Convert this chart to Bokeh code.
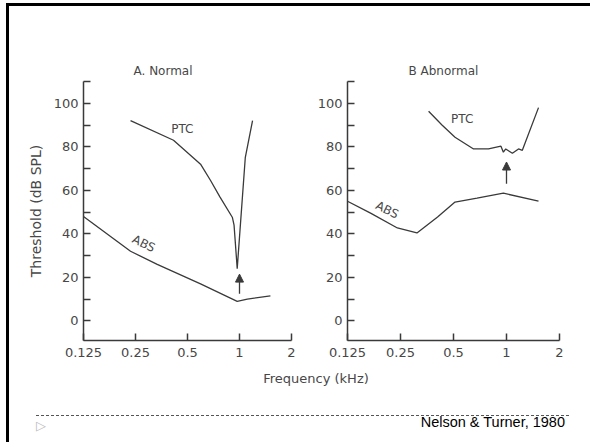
from bokeh.plotting import figure
from bokeh.layouts import row, column
from bokeh.models import FixedTicker, Arrow, NormalHead, Div, Range1d, BasicTickFormatter
from bokeh.core.properties import value
from bokeh.embed import file_html
from bokeh.resources import INLINE

# ---- data ----
freq_ticks = [0.125, 0.25, 0.5, 1.0, 2.0]
freq_labels = ["0.125", "0.25", "0.5", "1", "2"]
db_ticks = [0, 20, 40, 60, 80, 100]
db_minor = [10, 30, 50, 70, 90, 110]

# Panel A (Normal)
a_abs_f = [0.125, 0.234, 0.334, 0.595, 0.97, 1.11, 1.51]
a_abs_db = [48, 32, 26, 17, 9, 10, 11.5]
a_ptc_f = [0.234, 0.415, 0.595, 0.68, 0.77, 0.91, 0.93, 0.97, 1.08, 1.19]
a_ptc_db = [92, 83, 72, 64.5, 57, 47.5, 44, 24, 75, 92]
a_arrow = [1.0, 12.5, 21.5]          # freq, tail dB, head dB
a_label_text = ["PTC", "ABS"]
a_label_f = [0.467, 0.279]
a_label_db = [88, 35.5]
a_label_angle = [0.0, -0.45]

# Panel B (Abnormal)
b_abs_f = [0.125, 0.169, 0.24, 0.31, 0.406, 0.51, 0.68, 0.96, 1.52]
b_abs_db = [55, 49.5, 42.7, 40.4, 47.7, 54.6, 56.4, 58.7, 55]
b_ptc_f = [0.361, 0.43, 0.51, 0.65, 0.79, 0.93, 0.96, 0.99, 1.08, 1.17, 1.23, 1.52]
b_ptc_db = [96.3, 90, 84.4, 79, 79, 80.3, 77.5, 79, 77, 79, 78.4, 98]
b_arrow = [1.0, 63, 73]
b_label_text = ["PTC", "ABS"]
b_label_f = [0.56, 0.21]
b_label_db = [92.7, 51]
b_label_angle = [0.0, -0.45]

INK = "#3a3a3a"
TXT = "#474747"
FONT = "DejaVu Sans"


def make_panel(width, mb_left, mb_right, title, title_offset, abs_f, abs_db,
               ptc_f, ptc_db, arrow, lab_text, lab_f, lab_db, lab_angle, ylabel=None):
    p = figure(width=width, height=364, x_axis_type="log",
               x_range=Range1d(0.125, 2.0), y_range=Range1d(-9, 110),
               output_backend="svg", toolbar_location=None,
               min_border_left=mb_left, min_border_right=mb_right,
               min_border_top=75, min_border_bottom=30, title=title)
    p.outline_line_color = None
    p.xgrid.visible = False
    p.ygrid.visible = False
    p.title.align = "left"
    p.title.offset = title_offset
    p.title.standoff = 7
    p.title.text_font = FONT
    p.title.text_font_size = "12px"
    p.title.text_font_style = "normal"
    p.title.text_color = TXT

    p.xaxis.ticker = FixedTicker(ticks=freq_ticks, minor_ticks=[])
    p.xaxis.formatter = BasicTickFormatter()
    p.xaxis.major_label_overrides = {f: l for f, l in zip(freq_ticks, freq_labels)}
    p.yaxis.ticker = FixedTicker(ticks=db_ticks, minor_ticks=db_minor)
    for ax in (p.xaxis[0], p.yaxis[0]):
        ax.axis_line_color = INK
        ax.axis_line_width = 1.5
        ax.major_tick_line_color = INK
        ax.major_tick_line_width = 1.5
        ax.minor_tick_line_color = INK
        ax.minor_tick_line_width = 1.5
        ax.major_tick_in = 7
        ax.major_tick_out = 0
        ax.minor_tick_in = 7
        ax.minor_tick_out = 0
        ax.major_label_text_font = FONT
        ax.major_label_text_font_size = "13px"
        ax.major_label_text_color = TXT
        ax.major_label_standoff = 5
    p.xaxis.major_label_standoff = 7
    if ylabel:
        p.yaxis.axis_label = ylabel
        p.yaxis.axis_label_text_font = FONT
        p.yaxis.axis_label_text_font_size = "14px"
        p.yaxis.axis_label_text_font_style = "normal"
        p.yaxis.axis_label_text_color = TXT
        p.yaxis.axis_label_standoff = 7

    p.line(abs_f, abs_db, line_color=INK, line_width=1.3)
    p.line(ptc_f, ptc_db, line_color=INK, line_width=1.3)
    p.add_layout(Arrow(end=NormalHead(size=8, fill_color=INK, line_color=INK),
                       x_start=arrow[0], y_start=arrow[1], x_end=arrow[0], y_end=arrow[2],
                       line_color=INK, line_width=1.3))
    p.text(x=lab_f, y=lab_db, text=lab_text, angle=lab_angle,
           text_align="center", text_baseline="middle",
           text_font=value(FONT), text_font_size="12px", text_color=TXT)
    return p


pA = make_panel(291, 74, 9, "A. Normal", 50, a_abs_f, a_abs_db, a_ptc_f, a_ptc_db,
                a_arrow, a_label_text, a_label_f, a_label_db, a_label_angle,
                ylabel="Threshold (dB SPL)")
pB = make_panel(284, 47, 25, "B  Abnormal", 61, b_abs_f, b_abs_db, b_ptc_f, b_ptc_db,
                b_arrow, b_label_text, b_label_f, b_label_db, b_label_angle)

freq_div = Div(
    text='<div style="width:400px;margin-left:107px;padding-top:2px;text-align:center;'
         'font-family:\'DejaVu Sans\';font-size:13px;line-height:14px;color:#474747;">'
         'Frequency (kHz)</div>',
    width=575, height=30, margin=0)

footer_div = Div(
    text='<div style="margin-left:27px;width:533px;margin-top:15px;border-top:1px dashed #555;'
         'display:flex;justify-content:space-between;align-items:flex-start;">'
         '<span style="font-family:\'DejaVu Sans\';font-size:13px;color:#bbb;margin-top:3px;line-height:14px;">&#9655;</span>'
         '<span style="position:relative;top:-1px;font-family:\'Liberation Sans\';font-size:14.5px;'
         'line-height:14px;color:#000;padding-right:4px;">Nelson &amp; Turner, 1980</span></div>',
    width=575, height=36, margin=0)

top_bar = Div(text="", width=584, height=3, margin=(3, 0, 0, 6),
              styles={"background-color": "#000"})
left_bar = Div(text="", width=3, height=436, margin=(0, 0, 0, 6),
               styles={"background-color": "#000"})

content = column(row(pA, pB), freq_div, footer_div)
layout = column(top_bar, row(left_bar, content))

open("out.html", "w").write(file_html(layout, INLINE))
